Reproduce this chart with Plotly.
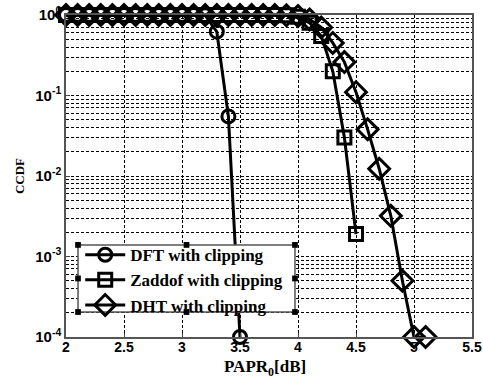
import plotly.graph_objects as go

# ---- data ----
x_dft = [2.0, 2.1, 2.2, 2.3, 2.4, 2.5, 2.6, 2.7, 2.8, 2.9, 3.0, 3.1, 3.2, 3.3, 3.4, 3.5]
y_dft = [1, 1, 1, 1, 1, 1, 1, 1, 1, 1, 1, 1, 0.99, 0.62, 0.055, 1e-4]

x_zad = [2.0, 2.1, 2.2, 2.3, 2.4, 2.5, 2.6, 2.7, 2.8, 2.9, 3.0, 3.1, 3.2, 3.3, 3.4, 3.5,
         3.6, 3.7, 3.8, 3.9, 4.0, 4.1, 4.2, 4.3, 4.4, 4.5]
y_zad = [1, 1, 1, 1, 1, 1, 1, 1, 1, 1, 1, 1, 1, 1, 1, 1,
         1, 1, 1, 0.99, 0.95, 0.8, 0.55, 0.2, 0.03, 0.0019]

x_dht = [2.0, 2.1, 2.2, 2.3, 2.4, 2.5, 2.6, 2.7, 2.8, 2.9, 3.0, 3.1, 3.2, 3.3, 3.4, 3.5,
         3.6, 3.7, 3.8, 3.9, 4.0, 4.1, 4.2, 4.3, 4.4, 4.5, 4.6, 4.7, 4.8, 4.9, 5.0, 5.1]
y_dht = [1, 1, 1, 1, 1, 1, 1, 1, 1, 1, 1, 1, 1, 1, 1, 1,
         1, 1, 1, 0.99, 0.97, 0.88, 0.7, 0.45, 0.26, 0.11, 0.038, 0.0123, 0.0032, 0.0005, 1e-4, 1e-4]

names = ["DFT with clipping", "Zaddof with clipping", "DHT with clipping"]
y_tickvals = [1e-4, 1e-3, 1e-2, 1e-1, 1]
y_ticktext = ["10<sup>-4</sup>", "10<sup>-3</sup>", "10<sup>-2</sup>", "10<sup>-1</sup>", "10<sup>0</sup>"]
x_tickvals = [2, 2.5, 3, 3.5, 4, 4.5, 5, 5.5]
x_ticktext = ["2", "2.5", "3", "3.5", "4", "4.5", "5", "5.5"]

fig = go.Figure()
series = [(x_dft, y_dft, "circle-open", 13), (x_zad, y_zad, "square-open", 13), (x_dht, y_dht, "diamond-open", 16)]
for (xs, ys, sym, sz), nm in zip(series, names):
    fig.add_trace(go.Scatter(
        x=xs, y=ys, name=nm, mode="lines+markers",
        line=dict(color="black", width=3),
        marker=dict(symbol=sym, size=sz, color="black", line=dict(color="black", width=3)),
        cliponaxis=False,
    ))

grid_common = dict(showgrid=True, gridcolor="black", gridwidth=1, griddash="3px,2px")
fig.update_xaxes(
    type="linear", range=[2, 5.5], tickvals=x_tickvals, ticktext=x_ticktext,
    ticks="inside", ticklen=4, tickcolor="#444", automargin=False, ticklabelstandoff=-4,
    showline=True, linecolor="#555", linewidth=1.5, mirror=True, zeroline=False,
    tickfont=dict(family="Liberation Sans", size=14, color="black", weight="bold"),
    **grid_common,
)
fig.update_yaxes(
    type="log", range=[-4, 0], tickvals=y_tickvals, ticktext=y_ticktext,
    ticks="inside", ticklen=4, tickcolor="#444", automargin=False,
    showline=True, linecolor="#555", linewidth=1.5, mirror=True, zeroline=False,
    tickfont=dict(family="Liberation Sans", size=15, color="black", weight="bold"),
    title=dict(text="CCDF", standoff=8,
               font=dict(family="Liberation Serif", size=13, color="black", weight="bold")),
    minor=dict(showgrid=True, gridcolor="black", gridwidth=1, griddash="3px,2px", dtick="D1", ticks=""),
    **grid_common,
)

# legend box drawn as a shape, with selection handles (paper coordinates)
bx0, bx1, by0, by1 = 0.0296, 0.564, 0.0776, 0.286
shapes = [dict(type="rect", xref="paper", yref="paper", x0=bx0, x1=bx1, y0=by0, y1=by1,
               fillcolor="white", line=dict(color="#555", width=1.5), layer="above")]
hmx = (bx0 + bx1) / 2
hmy = (by0 + by1) / 2
for hx, hy in [(bx0, by1), (hmx, by1), (bx1, by1), (bx0, hmy), (bx1, hmy),
               (bx0, by0), (hmx, by0), (bx1, by0)]:
    shapes.append(dict(type="rect", xref="paper", yref="paper",
                       x0=hx - 0.007, x1=hx + 0.007, y0=hy - 0.009, y1=hy + 0.009,
                       fillcolor="black", line=dict(width=0), layer="above"))

fig.update_layout(
    width=483, height=378,
    margin=dict(l=66, r=11, t=15, b=41),
    plot_bgcolor="white", paper_bgcolor="white",
    showlegend=True,
    legend=dict(
        x=0.035, y=0.31, xanchor="left", yanchor="top",
        bgcolor="rgba(0,0,0,0)", borderwidth=0,
        font=dict(family="Liberation Serif", size=17, color="black", weight="bold"),
        itemwidth=40, tracegroupgap=0,
    ),
    shapes=shapes,
    annotations=[dict(text="PAPR<sub>0</sub>[dB]", xref="paper", yref="paper",
                      x=0.49, y=-0.097, xanchor="center", yanchor="middle", showarrow=False,
                      font=dict(family="Liberation Serif", size=17, color="black", weight="bold"))],
)

fig.write_html("out.html")
